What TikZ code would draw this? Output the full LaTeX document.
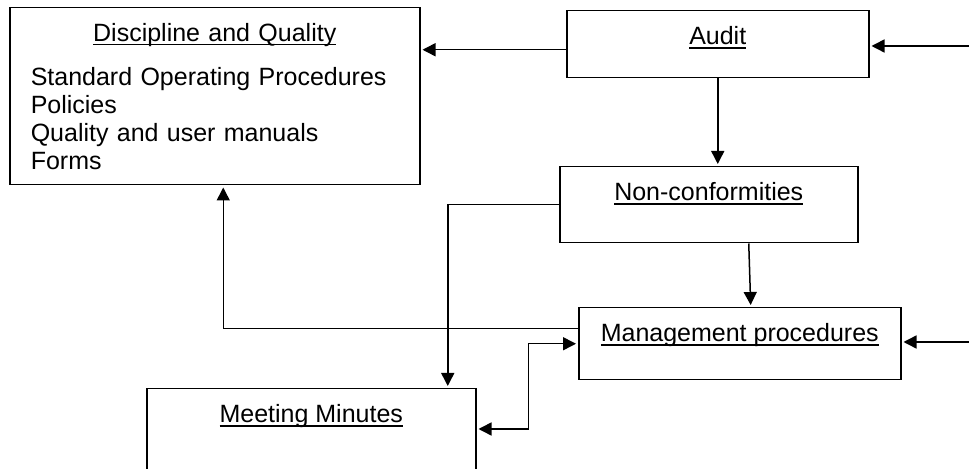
\documentclass[tikz,border=0pt]{standalone}
\usepackage{fontspec}
\setmainfont{Liberation Sans}
\usepackage{tikz}
\usetikzlibrary{arrows.meta,positioning,calc}
\newcommand{\uln}[1]{\setbox0\hbox{#1}\rlap{\rule[-1.9pt]{\wd0}{0.6pt}}\box0}
\tikzset{
  blk/.style={rectangle,draw=black,line width=0.75pt,fill=white,
    inner xsep=0pt,inner ysep=0pt,align=center,
    font=\fontsize{12.5}{14}\selectfont,
    text height=17pt,anchor=north west},
  listblk/.style={rectangle,draw=black,line width=0.75pt,fill=white,
    text width=184pt,inner xsep=10.5pt,inner ysep=0pt,align=left,
    font=\fontsize{12.5}{14}\selectfont,
    minimum height=88.5pt,anchor=north west},
  arr/.style={-{Triangle[length=6.5pt,width=6.5pt]},line width=0.75pt,
    shorten >=1pt},
  arrboth/.style={{Triangle[length=6.5pt,width=6.5pt]}-{Triangle[length=6.5pt,width=6.5pt]},
    line width=0.75pt,shorten >=1pt,shorten <=1pt},
}
\begin{document}
\begin{tikzpicture}[x=0.5pt,y=-0.5pt]
  \useasboundingbox (0,0) rectangle (969,469);
  \clip (0,0) rectangle (969,469);

  \node (dq) [listblk] at (9,7)
    {\makebox[\linewidth]{\uln{Discipline and Quality}}\\[8pt]
     Standard Operating Procedures\\
     Policies\\
     Quality and user manuals\\
     Forms};

  \node (audit) [blk,minimum width=151pt,text depth=16.5pt] at (566,10)
    {\uln{Audit}};

  \node (nc) [blk,minimum width=149pt,text depth=21pt] at (559,166)
    {\uln{Non-conformities}};

  \node (mgmt) [blk,minimum width=161pt,text depth=19pt] at (578,307)
    {\uln{Management procedures}};

  \node (mm) [blk,minimum width=164.5pt,text depth=45pt] at (146,388)
    {\uln{Meeting Minutes}};

  \coordinate (inA) at (969,46);
  \coordinate (inM) at (969,342);

  \draw[arr] ([yshift=-2.75pt]audit.west) -- ([yshift=-2.75pt]audit.west -| dq.east);
  \draw[arr] (inA) -- (inA -| audit.east);
  \draw[arr] (audit.south) -- (audit.south |- nc.north);
  \draw[arr] ([xshift=20pt]nc.south) -- ([xshift=5.5pt]mgmt.north);
  \draw[arr] (nc.west) -| ([xshift=68.25pt]mm.north);
  \draw[arr] ([yshift=7.5pt]mgmt.west) -| ([xshift=4.25pt]dq.south);
  \draw[arrboth] ([yshift=-20.5pt]mm.north east) -- ++(26pt,0) |- (mgmt.west);
  \draw[arr] (inM) -- (inM -| mgmt.east);

\end{tikzpicture}
\end{document}
